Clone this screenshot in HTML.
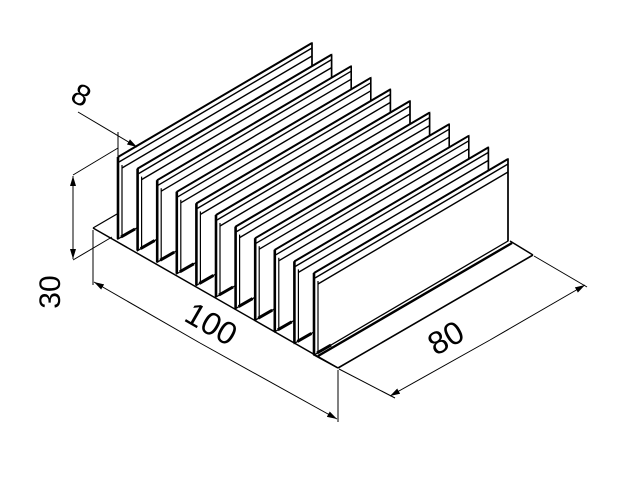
<!DOCTYPE html>
<html><head><style>html,body{margin:0;padding:0;background:#fff}svg{display:block}</style></head>
<body>
<svg width="640" height="480" viewBox="0 0 640 480" xmlns="http://www.w3.org/2000/svg">
<defs>
<g id="fin">
<polygon points="0,0 194,-114 194,-32 0,82" fill="#fff" stroke="#000" stroke-width="1.3"/>
<line x1="0" y1="0" x2="194" y2="-114" stroke="#000" stroke-width="2"/>
<line x1="1" y1="5" x2="194" y2="-109" stroke="#000" stroke-width="1.4"/>
<line x1="4" y1="11" x2="194" y2="-101" stroke="#000" stroke-width="1.4"/>
<line x1="0" y1="0" x2="0" y2="82" stroke="#000" stroke-width="2.6"/>
<line x1="4" y1="8" x2="4" y2="80" stroke="#000" stroke-width="1.2"/>
<line x1="194" y1="-114" x2="194" y2="-32" stroke="#000" stroke-width="1.6"/>
<line x1="3" y1="80" x2="17" y2="72" stroke="#000" stroke-width="3"/>
</g>
<marker id="ar" markerWidth="10" markerHeight="6" refX="10" refY="3" orient="auto" markerUnits="userSpaceOnUse"><path d="M0,0 L10,3 L0,6 z" fill="#000"/></marker>
</defs>
<line x1="93" y1="228" x2="338" y2="368" stroke="#000" stroke-width="1.5"/>
<line x1="93" y1="228" x2="117" y2="214" stroke="#000" stroke-width="1.3"/>
<line x1="338" y1="368" x2="533" y2="255" stroke="#000" stroke-width="1.6"/>
<line x1="533" y1="255" x2="510" y2="241" stroke="#000" stroke-width="1.5"/>
<line x1="318" y1="356" x2="512" y2="243" stroke="#000" stroke-width="2.4"/>
<use href="#fin" transform="translate(118,157)"/>
<use href="#fin" transform="translate(137.6,168.6)"/>
<use href="#fin" transform="translate(157.2,180.2)"/>
<use href="#fin" transform="translate(176.8,191.8)"/>
<use href="#fin" transform="translate(196.4,203.4)"/>
<use href="#fin" transform="translate(216,215)"/>
<use href="#fin" transform="translate(235.6,226.6)"/>
<use href="#fin" transform="translate(255.2,238.2)"/>
<use href="#fin" transform="translate(274.8,249.8)"/>
<use href="#fin" transform="translate(294.4,261.4)"/>
<use href="#fin" transform="translate(314,273)"/>
<line x1="314" y1="355" x2="338" y2="368" stroke="#000" stroke-width="1.5"/>
<line x1="78" y1="112" x2="137" y2="147" stroke="#000" stroke-width="1" marker-end="url(#ar)"/>
<line x1="118" y1="132" x2="118" y2="157" stroke="#000" stroke-width="1"/>
<text x="0" y="0" font-family="Liberation Sans, sans-serif" font-size="30" transform="translate(80,97) rotate(30)" text-anchor="middle" dominant-baseline="middle">8</text>
<line x1="73" y1="175" x2="118" y2="148" stroke="#000" stroke-width="1"/>
<line x1="73" y1="260" x2="112" y2="237" stroke="#000" stroke-width="1"/>
<line x1="73" y1="190" x2="73" y2="176" stroke="#000" stroke-width="1" marker-end="url(#ar)"/>
<line x1="73" y1="190" x2="73" y2="259" stroke="#000" stroke-width="1" marker-end="url(#ar)"/>
<text x="0" y="0" font-family="Liberation Sans, sans-serif" font-size="30" transform="translate(52,292) rotate(-90)" text-anchor="middle" dominant-baseline="middle">30</text>
<line x1="93" y1="230" x2="93" y2="285" stroke="#000" stroke-width="1"/>
<line x1="338" y1="370" x2="338" y2="422" stroke="#000" stroke-width="1"/>
<line x1="200" y1="343" x2="94" y2="282" stroke="#000" stroke-width="1" marker-end="url(#ar)"/>
<line x1="200" y1="343" x2="337" y2="419" stroke="#000" stroke-width="1" marker-end="url(#ar)"/>
<text x="0" y="0" font-family="Liberation Sans, sans-serif" font-size="32" transform="translate(210,326) rotate(30)" text-anchor="middle" dominant-baseline="middle">100</text>
<line x1="339" y1="369" x2="395" y2="398" stroke="#000" stroke-width="1"/>
<line x1="534" y1="256" x2="587" y2="287" stroke="#000" stroke-width="1"/>
<line x1="490" y1="340" x2="390" y2="396" stroke="#000" stroke-width="1" marker-end="url(#ar)"/>
<line x1="490" y1="340" x2="585" y2="285" stroke="#000" stroke-width="1" marker-end="url(#ar)"/>
<text x="0" y="0" font-family="Liberation Sans, sans-serif" font-size="32" transform="translate(447,340) rotate(-30)" text-anchor="middle" dominant-baseline="middle">80</text>
</svg>
</body></html>
